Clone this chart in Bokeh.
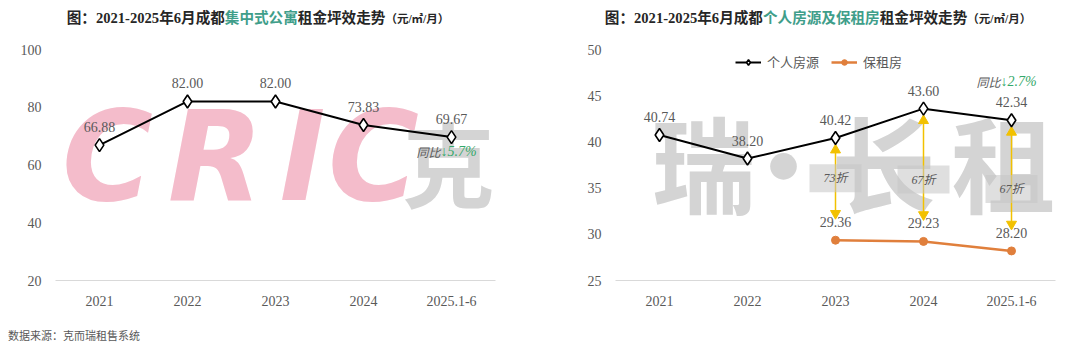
from bokeh.plotting import figure
from bokeh.models import (ColumnDataSource, Label, LabelSet, Legend, LegendItem,
                          Div, Range1d, FixedTicker)
from bokeh.layouts import row, column
from bokeh.embed import file_html
from bokeh.resources import INLINE
from bokeh.core.properties import value

# ---------------- data ----------------
categories = ["2021", "2022", "2023", "2024", "2025.1-6"]
apartment = [66.88, 82.00, 82.00, 73.83, 69.67]
personal = [40.74, 38.20, 40.42, 43.60, 42.34]
baozu_cats = ["2023", "2024", "2025.1-6"]
baozu = [29.36, 29.23, 28.20]
left_ticks = [20, 40, 60, 80, 100]
right_ticks = [25, 30, 35, 40, 45, 50]
yoy_left = "5.7%"
yoy_right = "2.7%"

NUM_FONT = "'Liberation Serif', 'Noto Sans CJK SC', serif"
CJK_FONT = "'Noto Sans CJK SC', sans-serif"
GRAY = "#595959"
GREEN = "#34a86a"
ORANGE = "#e07f3c"
YELLOW = "#f2c100"
PINK = "#f4bccb"
WM_GRAY = "#d4d4d4"


def base_fig(y0, y1, ticks, bl, br):
    p = figure(x_range=categories, y_range=Range1d(y0, y1), width=540, height=280,
               output_backend="svg", toolbar_location=None,
               min_border_left=bl, min_border_right=br,
               min_border_top=13, min_border_bottom=36)
    p.outline_line_color = None
    p.background_fill_color = None
    p.border_fill_color = None
    p.xgrid.grid_line_color = None
    p.ygrid.grid_line_color = None
    p.yaxis.ticker = FixedTicker(ticks=ticks)
    p.yaxis.axis_line_color = None
    p.yaxis.major_tick_line_color = None
    p.yaxis.minor_tick_line_color = None
    p.yaxis.major_label_standoff = 8
    p.xaxis.axis_line_color = "#d9d9d9"
    p.xaxis.major_tick_line_color = None
    p.xaxis.minor_tick_line_color = None
    p.xaxis.major_label_standoff = 9
    for ax in (p.xaxis, p.yaxis):
        ax.major_label_text_font = NUM_FONT
        ax.major_label_text_font_size = "14px"
        ax.major_label_text_color = GRAY
    return p


def watermark(p, text, x, y, size, color, style="bold", font="'Noto Sans CJK SC'"):
    # x, y in screen pixels from the frame's bottom-left corner
    p.add_layout(Label(x=x, y=y, x_units="screen", y_units="screen", text=text,
                       text_font=font,
                       text_font_size=size, text_font_style=style,
                       text_color=color, text_align="center",
                       text_baseline="middle", level="underlay"))


def yoy(p, cat, val, yoff, pct):
    s = ColumnDataSource(dict(x=[cat], y=[val], a=["同比"], b=["↓" + pct]))
    p.add_layout(LabelSet(x="x", y="y", text="a", source=s, x_offset=-11, y_offset=yoff,
                          text_align="right", text_baseline="middle",
                          text_font=value(CJK_FONT), text_font_size="12px",
                          text_font_style="italic", text_color=GRAY))
    p.add_layout(LabelSet(x="x", y="y", text="b", source=s, x_offset=-11, y_offset=yoff,
                          text_align="left", text_baseline="middle",
                          text_font=value(NUM_FONT), text_font_size="14px",
                          text_font_style="italic", text_color=GREEN))


# ---------------- left chart ----------------
pl = base_fig(20, 100, left_ticks, 55, 45)
for ch, cx in zip("CRIC", (52, 160, 247, 318)):
    watermark(pl, ch, cx, 124, "124px", PINK, "bold italic", "'DejaVu Sans'")
watermark(pl, "克", 393, 120, "92px", WM_GRAY)

src_l = ColumnDataSource(dict(x=categories, y=apartment,
                              t=["%.2f" % v for v in apartment]))
pl.line("x", "y", source=src_l, line_color="black", line_width=2)
pl.scatter("x", "y", source=src_l, marker="diamond", size=13,
           fill_color="white", line_color="black", line_width=1.6)
pl.add_layout(LabelSet(x="x", y="y", text="t", source=src_l, y_offset=18,
                       text_align="center", text_baseline="middle",
                       text_font=value(NUM_FONT), text_font_size="14px",
                       text_color=GRAY))
yoy(pl, categories[-1], apartment[-1], -14, yoy_left)

# ---------------- right chart ----------------
pr = base_fig(25, 50, right_ticks, 75, 25)
for ch, cx in zip("瑞·长租", (88, 168, 268, 388)):
    watermark(pr, ch, cx, 120, "104px", WM_GRAY)

src_p = ColumnDataSource(dict(x=categories, y=personal,
                              t=["%.2f" % v for v in personal]))
idx = [categories.index(c) for c in baozu_cats]
top = [personal[i] for i in idx]
src_b = ColumnDataSource(dict(x=baozu_cats, y=baozu,
                              t=["%.2f" % v for v in baozu],
                              top=[v - 1.3 for v in top],
                              bot=[v + 2.9 for v in baozu],
                              mid=[v + 6.7 for v in baozu],
                              d=["%d折" % round(b / t * 100) for b, t in zip(baozu, top)]))

# yellow double arrows
pr.segment(x0="x", y0="bot", x1="x", y1="top", source=src_b,
           line_color=YELLOW, line_width=1.5)
pr.scatter("x", "top", source=src_b, marker="triangle", size=10,
           fill_color=YELLOW, line_color=YELLOW)
pr.scatter("x", "bot", source=src_b, marker="inverted_triangle", size=10,
           fill_color=YELLOW, line_color=YELLOW)
pr.rect("x", "mid", source=src_b, width=52, height=28, width_units="screen",
        height_units="screen", fill_color="#c4c4c4", fill_alpha=0.55, line_color=None)
pr.add_layout(LabelSet(x="x", y="mid", text="d", source=src_b,
                       text_align="center", text_baseline="middle",
                       text_font=value(NUM_FONT), text_font_size="12px",
                       text_font_style="italic", text_color=GRAY))

l1 = pr.line("x", "y", source=src_p, line_color="black", line_width=2)
s1 = pr.scatter("x", "y", source=src_p, marker="diamond", size=13,
                fill_color="white", line_color="black", line_width=1.6)
l2 = pr.line("x", "y", source=src_b, line_color=ORANGE, line_width=2.5)
s2 = pr.scatter("x", "y", source=src_b, marker="circle", size=8,
                fill_color=ORANGE, line_color=ORANGE)

for s in (src_p, src_b):
    pr.add_layout(LabelSet(x="x", y="y", text="t", source=s, y_offset=18,
                           text_align="center", text_baseline="middle",
                           text_font=value(NUM_FONT), text_font_size="14px",
                           text_color=GRAY))
yoy(pr, categories[-1], personal[-1], 39, yoy_right)

legend = Legend(items=[LegendItem(label="个人房源", renderers=[l1, s1]),
                       LegendItem(label="保租房", renderers=[l2, s2])],
                location=(120, 209), orientation="horizontal",
                margin=0, padding=0, spacing=12, glyph_width=26, glyph_height=14,
                label_text_font=CJK_FONT, label_text_font_size="13px",
                label_text_color=GRAY, border_line_color=None,
                background_fill_alpha=0, label_standoff=6)
pr.add_layout(legend)

# ---------------- titles / source ----------------
TSTYLE = ("font-family:'Liberation Serif','Noto Sans CJK SC',serif;font-weight:bold;"
          "font-size:14.6px;color:#262626;line-height:36px;text-align:center;"
          "width:540px;white-space:nowrap;")
UNIT = "<span style='font-size:11.5px'>（元/㎡/月）</span>"
title_l = Div(text=f"<div style=\"{TSTYLE}padding-right:24px;box-sizing:border-box\">"
                   "图：2021-2025年6月成都<span style='color:#3f9e8a'>集中式公寓</span>"
                   f"租金坪效走势{UNIT}</div>", width=540, height=36, margin=0)
title_r = Div(text=f"<div style=\"{TSTYLE}padding-left:16px;box-sizing:border-box\">"
                   "图：2021-2025年6月成都<span style='color:#3f9e8a'>个人房源及保租房</span>"
                   f"租金坪效走势{UNIT}</div>", width=540, height=36, margin=0)
source = Div(text="<div style=\"font-family:'Noto Sans CJK SC',sans-serif;font-size:11px;"
                  "color:#595959;padding:12px 0 0 8px;white-space:nowrap\">数据来源：克而瑞租售系统</div>",
             width=1080, height=35, margin=0)

layout = column(row(column(title_l, pl, spacing=0), column(title_r, pr, spacing=0), spacing=0),
                source, spacing=0)

open("out.html", "w").write(file_html(layout, INLINE))
